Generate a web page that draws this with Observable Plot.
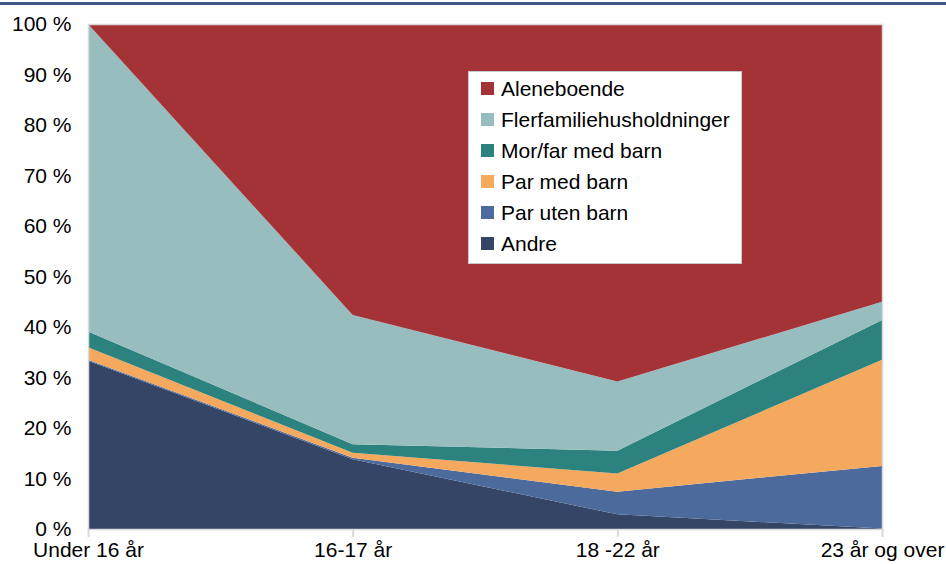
<!DOCTYPE html>
<html><head><meta charset="utf-8">
<script src="https://cdn.jsdelivr.net/npm/d3@7"></script>
<script src="https://cdn.jsdelivr.net/npm/@observablehq/plot@0.6"></script>
<style>
body{margin:0;background:#fff;font-family:Arial,"Liberation Sans",sans-serif;}
#wrap{position:relative;width:946px;height:564px;overflow:hidden;}
#topline{position:absolute;left:0;top:2px;width:946px;height:3px;background:#3d5a87;}
#legend{position:absolute;left:468px;top:71px;width:274px;height:193px;border:1px solid #c8c8c8;background:#fff;box-sizing:border-box;}
.row{position:absolute;left:0;height:31px;line-height:31px;font-size:21px;color:#000;white-space:nowrap;}
.sw{position:absolute;left:12px;top:9px;width:13px;height:13px;}
.lb{position:absolute;left:32px;top:0;}
svg{overflow:visible;}
</style></head>
<body>
<div id="wrap"><div id="chart"></div><div id="topline"></div><div id="legend"></div></div>
<script>
const categories = ["Under 16 år", "16-17 år", "18 -22 år", "23 år og over"];
const seriesNames = ["Andre", "Par uten barn", "Par med barn", "Mor/far med barn", "Flerfamiliehusholdninger", "Aleneboende"];
const colors = ["#344565", "#4c6a9c", "#f5a95e", "#2c827e", "#98bdbf", "#a33336"];
const andre = [33.3, 13.8, 2.9, 0.1];
const parUtenBarn = [0.2, 0.3, 4.5, 12.4];
const parMedBarn = [2.5, 1.0, 3.6, 21.0];
const morFarMedBarn = [3.1, 1.7, 4.5, 7.9];
const flerfamilie = [60.9, 25.6, 13.7, 3.6];
const aleneboende = [0, 57.6, 70.8, 55.0];
const yTicks = [0, 10, 20, 30, 40, 50, 60, 70, 80, 90, 100];
const legendOrder = ["Aleneboende", "Flerfamiliehusholdninger", "Mor/far med barn", "Par med barn", "Par uten barn", "Andre"];

const seriesValues = [andre, parUtenBarn, parMedBarn, morFarMedBarn, flerfamilie, aleneboende];
const data = [];
seriesNames.forEach((s, j) => seriesValues[j].forEach((v, i) => data.push({idx: i, value: v, series: s})));
const idx = categories.map((_, i) => i);

const chart = Plot.plot({
  width: 946, height: 564,
  marginLeft: 88, marginRight: 64, marginTop: 24, marginBottom: 35,
  x: {domain: [0, 3], label: null},
  y: {domain: [0, 100], label: null},
  color: {domain: seriesNames, range: colors},
  style: {fontFamily: "Arial, 'Liberation Sans', sans-serif", fontSize: "21px", color: "#000", background: "transparent", overflow: "visible"},
  marks: [
    Plot.areaY(data, {x: "idx", y: "value", fill: "series"}),
    Plot.frame({stroke: "#d9d9d9", strokeWidth: 1.5}),
    Plot.axisY({ticks: yTicks, tickFormat: d => d + " %", tickSize: 0, tickPadding: 17, fill: "#000"}),
    Plot.axisX({ticks: idx, tickFormat: i => categories[i], tickSize: 8, tickPadding: 5, stroke: "#d9d9d9", strokeWidth: 2, fill: "#000"})
  ]
});
document.getElementById("chart").appendChild(chart);

const legend = document.getElementById("legend");
legendOrder.forEach((name, i) => {
  const row = document.createElement("div");
  row.className = "row";
  row.style.top = (1 + 31 * i) + "px";
  const sw = document.createElement("div");
  sw.className = "sw";
  sw.style.background = colors[seriesNames.indexOf(name)];
  const lb = document.createElement("div");
  lb.className = "lb";
  lb.textContent = name;
  row.appendChild(sw); row.appendChild(lb);
  legend.appendChild(row);
});
</script>
</body></html>
